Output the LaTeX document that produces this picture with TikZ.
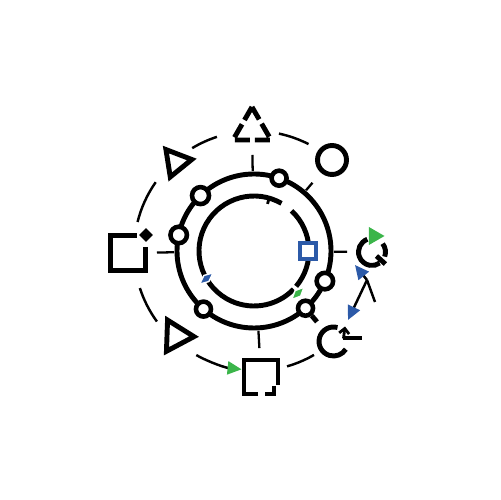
\documentclass[tikz,border=0pt]{standalone}
\usetikzlibrary{shapes.geometric,arrows.meta}
\definecolor{iconblue}{RGB}{44,90,168}
\definecolor{icongreen}{RGB}{59,181,74}

\begin{document}
\begin{tikzpicture}[x=0.02cm,y=0.02cm,
    ring line/.style={line width=2.8pt},
    dash line/.style={line width=1.4pt},
    spoke/.style={line width=1.3pt,shorten <=1.6cm},
    hub node/.style={circle,draw,line width=2.6pt,fill=white,minimum size=0.3cm,inner sep=0pt},
    icon node/.style={draw=none,minimum size=0.7cm,inner sep=0pt},
    tri node/.style={regular polygon,regular polygon sides=3,draw,line width=2.8pt,inner sep=0pt},
    gem/.style={diamond,draw=white,line width=0.8pt,inner sep=0pt,minimum width=0.36cm,minimum height=0.17cm},
    blue tip/.style={-{Triangle[length=0.28cm,width=0.26cm,color=iconblue]}}]
    \useasboundingbox (0,0) rectangle (500,500);
    \coordinate (ctr) at (254,249);

    % rings
    \draw[ring line] (ctr) circle[radius=77];
    \draw[ring line] ([shift={(60:55)}]ctr) arc[start angle=60,end angle=316,radius=55];
    \draw[ring line] ([shift={(-40:55)}]ctr) arc[start angle=-40,end angle=47,radius=55];
    \draw[line width=1.6pt] ([shift={(74:55)}]ctr) -- ([shift={(74:49)}]ctr);

    % outer dashed ring
    \foreach \a/\b in {108/121,63/78,145/166,198/216,286/300}
        \draw[dash line] ([shift={(\a:120)}]ctr) arc[start angle=\a,end angle=\b,radius=120];
    \draw[dash line,-{Triangle[length=0.28cm,width=0.26cm,color=icongreen]}] ([shift={(241:119)}]ctr) arc[start angle=241,end angle=264,radius=119];

    % outer icons
    \node[tri node,minimum size=0.88cm,dash pattern=on 0.3cm off 0.1cm] (tritop) at (252,371) {};
    \node[tri node,minimum size=0.64cm,rotate=-81] (trinw) at (176,338) {};
    \node[tri node,minimum size=0.72cm,rotate=-92] (trisw) at (176,164) {};
    \node[hub node,minimum size=0.58cm,line width=2.8pt] (dotne) at (332,340) {};
    \node[icon node] (sqw) at (128,247) {};
    \node[icon node] (sqs) at (261,123) {};
    \node[icon node] (cyce) at (372,248) {};
    \node[icon node] (cycse) at (333.5,158.5) {};

    \draw[ring line] (sqw.center) ++(17.5,6) -- ++(0,-23.5) -- ++(-35,0) -- ++(0,35) -- ++(26.5,0);
    \node[diamond,fill,minimum size=0.28cm,inner sep=0pt] (sqwgem) at ([shift={(18,18)}]sqw.center) {};

    \draw[ring line] (sqs.center) ++(-3,-17) -- ++(-14,0) -- ++(0,34) -- ++(34,0) -- ++(0,-25);
    \draw[ring line] (sqs.center) ++(13,-9) -- ++(0,-8) -- ++(-9,0);

    \draw[ring line] ([shift={(110:13.5)}]cyce.center) arc[start angle=110,end angle=305,radius=13.5];
    \draw[ring line] ([shift={(-20:13.5)}]cyce.center) arc[start angle=-20,end angle=38,radius=13.5];
    \draw[ring line] ([shift={(-42:6)}]cyce.center) -- ([shift={(-42:18)}]cyce.center);
    \node[regular polygon,regular polygon sides=3,fill=icongreen,rotate=-90,minimum size=0.42cm,inner sep=0pt] (cyctip) at ([shift={(2,16)}]cyce.center) {};

    \draw[ring line] ([shift={(74:14.5)}]cycse.center) arc[start angle=74,end angle=328,radius=14.5];
    \draw[line width=1.6pt,-{Straight Barb[length=0.1cm,width=0.2cm]}] ([shift={(10,3)}]cycse.center) -- ([shift={(11.5,15)}]cycse.center);
    \draw[line width=1.8pt] ([shift={(9,3.5)}]cycse.center) -- ([shift={(28.5,3.5)}]cycse.center);

    % spokes
    \path[spoke] (ctr) edge[shorten >=0.52cm] (tritop.center)
        (ctr) edge[shorten >=0.6cm] (dotne.center)
        (ctr) edge[shorten >=0.5cm] (cyce.center)
        (ctr) edge[shorten >=0.58cm] (sqw.center)
        (ctr) edge[shorten >=0.58cm] (sqs.center);

    % hubs on the middle ring
    \node[hub node] (h1) at ([shift={(71:77)}]ctr) {};
    \node[hub node,minimum size=0.34cm] (h2) at ([shift={(134:77)}]ctr) {};
    \node[hub node,minimum size=0.33cm] (h3) at ([shift={(168:77)}]ctr) {};
    \node[hub node] (h4) at ([shift={(229:77)}]ctr) {};
    \node[hub node] (h5) at ([shift={(312:77)}]ctr) {};
    \node[hub node,minimum size=0.33cm] (h6) at ([shift={(337:77)}]ctr) {};
    \draw[ring line] (h5.-50) -- ([shift={(-50:8)}]h5.-50);

    % inner marks
    \node[draw=iconblue,line width=2.8pt,fill=white,minimum size=0.32cm,inner sep=0pt] (bsq) at ([shift={(0:54)}]ctr) {};
    \node[gem,fill=iconblue,rotate=40] (bgem) at ([shift={(210:55)}]ctr) {};
    \node[gem,fill=icongreen,rotate=45] (ggem) at ([shift={(-44:61)}]ctr) {};

    % link between the two cycle icons
    \coordinate (fork) at (367,220);
    \coordinate (forkend) at (375,198);
    \coordinate (tipup) at (355,235);
    \coordinate (tipdown) at (348,180);
    \path[line width=1.4pt] (fork) edge[blue tip] (tipup)
        (fork) edge[blue tip] (tipdown)
        (fork) edge (forkend);
\end{tikzpicture}
\end{document}
